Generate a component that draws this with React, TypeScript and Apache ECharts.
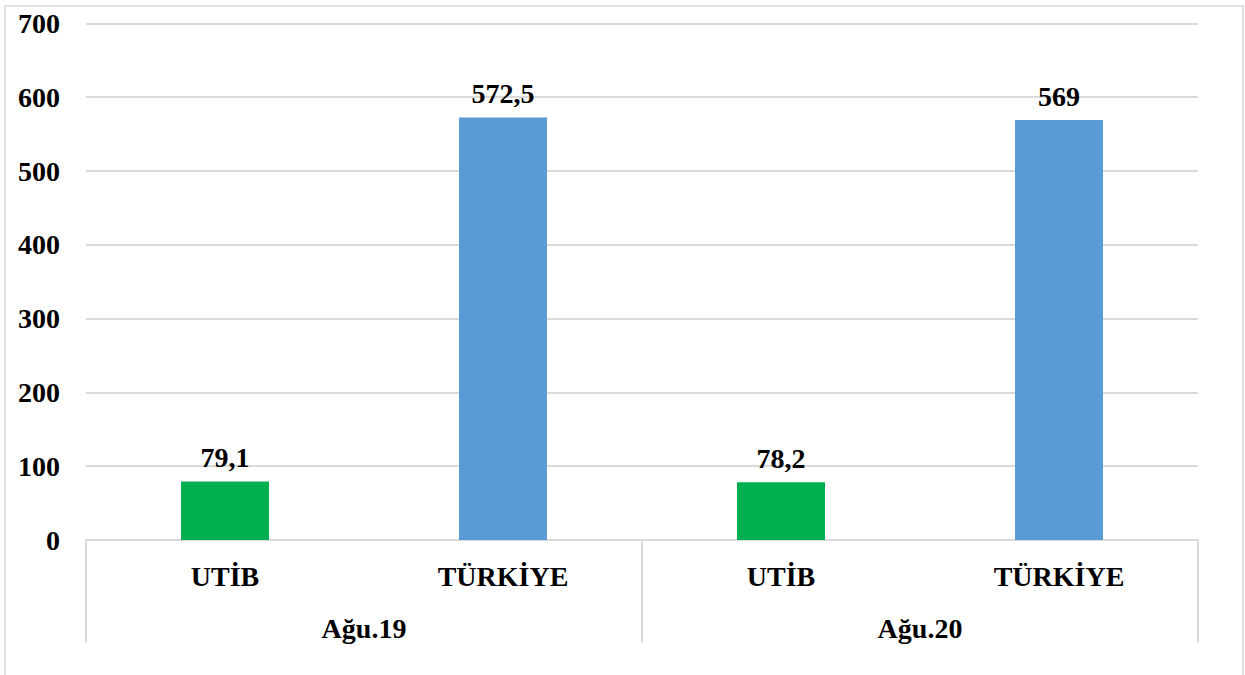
import React, { useEffect, useRef } from "react";
import * as echarts from "echarts";

const categories = ["UTİB", "TÜRKİYE", "UTİB", "TÜRKİYE"];
const groups = ["Ağu.19", "Ağu.20"];
const values = [79.1, 572.5, 78.2, 569];
const barColors = ["#00B050", "#5B9BD5", "#00B050", "#5B9BD5"];
const yTicks = { min: 0, max: 700, interval: 100 };

const FONT = "'Liberation Serif', 'Times New Roman', serif";

export default function App() {
  const ref = useRef<HTMLDivElement>(null);
  useEffect(() => {
    if (!ref.current) return;
    const chart = echarts.init(ref.current, undefined, { renderer: "svg" });
    chart.setOption({
      animation: false,
      backgroundColor: "#ffffff",
      grid: { left: 86, right: 47, top: 23.4, bottom: 135 },
      graphic: [
        {
          type: "rect",
          shape: { x: 5, y: 6, width: 1238, height: 720 },
          style: { fill: "none", stroke: "#d9d9d9", lineWidth: 1.5 },
          silent: true,
        },
      ],
      xAxis: [
        {
          type: "category",
          data: categories,
          position: "bottom",
          axisLine: { show: true, lineStyle: { color: "#d9d9d9", width: 2 } },
          axisTick: { show: false },
          axisLabel: {
            color: "#000",
            fontFamily: FONT,
            fontWeight: "bold",
            fontSize: 28,
            margin: 22,
          },
        },
        {
          type: "category",
          data: groups,
          position: "bottom",
          offset: 0,
          axisLine: { show: false },
          axisTick: {
            show: true,
            inside: false,
            length: 103,
            lineStyle: { color: "#d9d9d9", width: 2 },
          },
          axisLabel: {
            color: "#000",
            fontFamily: FONT,
            fontWeight: "bold",
            fontSize: 28,
            margin: 74,
          },
        },
      ],
      yAxis: {
        type: "value",
        min: yTicks.min,
        max: yTicks.max,
        interval: yTicks.interval,
        axisLine: { show: false },
        axisTick: { show: false },
        splitLine: { lineStyle: { color: "#d9d9d9", width: 2 } },
        axisLabel: {
          color: "#000",
          fontFamily: FONT,
          fontWeight: "bold",
          fontSize: 28,
          margin: 26,
        },
      },
      series: [
        {
          type: "bar",
          xAxisIndex: 0,
          barWidth: 88,
          data: values.map((v, i) => ({ value: v, itemStyle: { color: barColors[i] } })),
          label: {
            show: true,
            position: "top",
            distance: 10,
            color: "#000",
            fontFamily: FONT,
            fontWeight: "bold",
            fontSize: 28,
            formatter: (p: any) => String(p.value).replace(".", ","),
          },
        },
      ],
    });
    return () => chart.dispose();
  }, []);
  return (
    <div
      ref={ref}
      style={{ position: "fixed", left: 0, top: 0, width: 1245, height: 675 }}
    />
  );
}
